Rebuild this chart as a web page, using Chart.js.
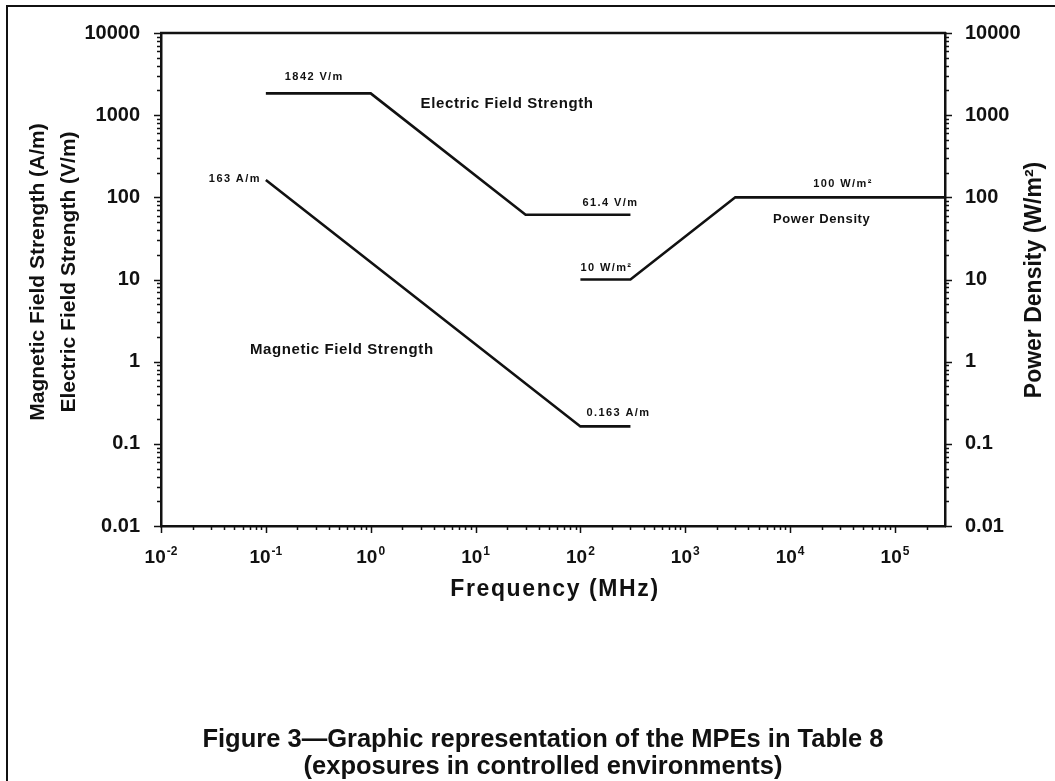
<!DOCTYPE html>
<html>
<head>
<meta charset="utf-8">
<title>MPE - controlled environments</title>
<script src="https://cdn.jsdelivr.net/npm/chart.js@4/dist/chart.umd.min.js"></script>
<style>
  html, body { margin: 0; padding: 0; background: #fff; overflow: hidden; }
  #wrap { position: relative; width: 1055px; height: 781px; }
  #frame { position: absolute; left: 6px; top: 5px; width: 1100px; height: 820px; border: 2px solid #111; }
  #graf { position: absolute; left: 0; top: 0; }
  #caption {
    position: absolute; left: 0; width: 1086px; top: 725px;
    font: bold 25.5px "Liberation Sans", Arial, sans-serif; line-height: 27px;
    text-align: center; color: #111; white-space: nowrap;
  }
</style>
</head>
<body>
<div id="wrap">
  <div id="frame"></div>
  <canvas id="graf" width="1055" height="781"></canvas>
  <div id="caption">Figure 3—Graphic representation of the MPEs in Table 8<br>(exposures in controlled environments)</div>
</div>
<script>
// Limites en funcion de la frecuencia (MHz)
const eFreq = [0.1, 1, 30, 300];
const eField = [1842, 1842, 61.4, 61.4];       // V/m
const hFreq = [0.1, 100, 300];
const hField = [163, 0.163, 0.163];            // A/m
const sFreq = [100, 300, 3000, 300000];
const sDensity = [10, 10, 100, 100];           // W/m2

const xDecades = [0.01, 0.1, 1, 10, 100, 1000, 10000, 100000];
const yDecades = [0.01, 0.1, 1, 10, 100, 1000, 10000];
const yTickLabels = ['0.01', '0.1', '1', '10', '100', '1000', '10000'];

const ink = '#111';
const fuente = '"Liberation Sans", Arial, sans-serif';

function puntos(xs, ys) {
  return xs.map((f, i) => ({x: f, y: ys[i]}));
}

// textos sobre las curvas (ancla en el punto, desplazamiento en px)
const etiquetas = [
  {text: eField[0] + ' V/m', eje: 'y', x: eFreq[0], y: eField[0], dx: 19, dy: -16, align: 'left', size: 11},
  {text: eField[2] + ' V/m', eje: 'y', x: eFreq[2], y: eField[2], dx: 57, dy: -12, align: 'left', size: 11},
  {text: hField[0] + ' A/m', eje: 'y', x: hFreq[0], y: hField[0], dx: -5, dy: -1, align: 'right', size: 11},
  {text: hField[1] + ' A/m', eje: 'y', x: hFreq[1], y: hField[1], dx: 6, dy: -13, align: 'left', size: 11},
  {text: sDensity[0] + ' W/m²', eje: 'y2', x: sFreq[0], y: sDensity[0], dx: 0, dy: -12, align: 'left', size: 11},
  {text: sDensity[2] + ' W/m²', eje: 'y2', x: sFreq[2], y: sDensity[2], dx: 78, dy: -13, align: 'left', size: 11},
  {text: 'Electric Field Strength', eje: 'y', x: 20, y: 1390, dx: 0, dy: 0, align: 'center', size: 15},
  {text: 'Magnetic Field Strength', eje: 'y', x: 0.53, y: 1.4, dx: 0, dy: 0, align: 'center', size: 15},
  {text: 'Power Density', eje: 'y2', x: 20000, y: 54, dx: 0, dy: 0, align: 'center', size: 13}
];

const extras = {
  id: 'extras',
  afterDraw(chart) {
    const ctx = chart.ctx;
    const area = chart.chartArea;
    const sx = chart.scales.x;
    const sy = chart.scales.y;
    ctx.save();
    ctx.strokeStyle = ink;
    ctx.fillStyle = ink;

    // borde superior del recuadro
    ctx.lineWidth = 2.5;
    ctx.beginPath();
    ctx.moveTo(area.left - 1, area.top);
    ctx.lineTo(area.right + 1, area.top);
    ctx.stroke();

    // marcas mayores y menores
    ctx.lineWidth = 1.5;
    ctx.beginPath();
    xDecades.forEach(d => {
      for (let m = 1; m <= 9; m++) {
        const v = d * m;
        if (v > sx.max * 0.999) break;
        const px = Math.round(sx.getPixelForValue(v)) + 0.5;
        const len = m === 1 ? 7 : 4;
        ctx.moveTo(px, area.bottom);
        ctx.lineTo(px, area.bottom + len);
      }
    });
    yDecades.forEach(d => {
      for (let m = 1; m <= 9; m++) {
        const v = d * m;
        if (v > sy.max * 1.001) break;
        const py = Math.round(sy.getPixelForValue(v)) + 0.5;
        const len = m === 1 ? 7 : 4;
        ctx.moveTo(area.left - len, py);
        ctx.lineTo(area.left, py);
        ctx.moveTo(area.right, py);
        ctx.lineTo(area.right + len, py);
      }
    });
    ctx.stroke();

    // etiquetas del eje x: 10 con exponente
    ctx.textBaseline = 'alphabetic';
    ctx.textAlign = 'left';
    xDecades.forEach(d => {
      const px = sx.getPixelForValue(d);
      const exp = String(Math.round(Math.log10(d)));
      ctx.font = 'bold 19px ' + fuente;
      const w1 = ctx.measureText('10').width;
      ctx.font = 'bold 12px ' + fuente;
      const w2 = ctx.measureText(exp).width;
      const x0 = px - (w1 + w2 + 1) / 2;
      ctx.font = 'bold 19px ' + fuente;
      ctx.fillText('10', x0, 563);
      ctx.font = 'bold 12px ' + fuente;
      ctx.fillText(exp, x0 + w1 + 1, 555);
    });

    // textos de las curvas
    ctx.textBaseline = 'middle';
    etiquetas.forEach(e => {
      const py = chart.scales[e.eje].getPixelForValue(e.y) + e.dy;
      const px = sx.getPixelForValue(e.x) + e.dx;
      ctx.font = 'bold ' + e.size + 'px ' + fuente;
      ctx.letterSpacing = e.size < 12 ? '1.4px' : '0.6px';
      ctx.textAlign = e.align;
      ctx.fillText(e.text, px, py);
    });
    ctx.letterSpacing = '0px';

    // titulos de los ejes
    ctx.textAlign = 'center';
    ctx.font = 'bold 21px ' + fuente;
    ctx.save();
    ctx.translate(38, 272);
    ctx.rotate(-Math.PI / 2);
    ctx.fillText('Magnetic Field Strength (A/m)', 0, 0);
    ctx.restore();
    ctx.save();
    ctx.translate(69, 272);
    ctx.rotate(-Math.PI / 2);
    ctx.fillText('Electric Field Strength (V/m)', 0, 0);
    ctx.restore();
    ctx.save();
    ctx.font = 'bold 23px ' + fuente;
    ctx.translate(1035, 280);
    ctx.rotate(-Math.PI / 2);
    ctx.fillText('Power Density (W/m²)', 0, 0);
    ctx.restore();

    ctx.font = 'bold 23px ' + fuente;
    ctx.letterSpacing = '1.6px';
    ctx.fillText('Frequency (MHz)', 555, 590);
    ctx.restore();
  }
};

function ejeY(posicion, ancho, pad) {
  return {
    type: 'logarithmic',
    position: posicion,
    min: 0.01,
    max: 10000,
    afterBuildTicks: s => { s.ticks = yDecades.map(v => ({value: v})); },
    afterFit: s => { s.width = ancho; },
    ticks: {
      autoSkip: false,
      padding: pad,
      color: ink,
      font: {family: fuente, size: 20, weight: 'bold'},
      callback: v => yTickLabels[yDecades.indexOf(v)]
    },
    grid: {drawOnChartArea: false, drawTicks: false},
    border: {display: true, color: ink, width: 2.5}
  };
}

const linea = {borderColor: ink, borderWidth: 2.6, pointRadius: 0, tension: 0, fill: false};

let ctx = document.getElementById('graf').getContext('2d');
let graf = new Chart(ctx, {
  type: 'line',
  data: {
    datasets: [
      Object.assign({label: 'Electric Field Strength', data: puntos(eFreq, eField), yAxisID: 'y'}, linea),
      Object.assign({label: 'Magnetic Field Strength', data: puntos(hFreq, hField), yAxisID: 'y'}, linea),
      Object.assign({label: 'Power Density', data: puntos(sFreq, sDensity), yAxisID: 'y2'}, linea)
    ]
  },
  options: {
    responsive: false,
    animation: false,
    devicePixelRatio: 1,
    layout: {padding: {top: 29, left: 0, right: 0, bottom: 0}},
    plugins: {legend: {display: false}, tooltip: {enabled: false}},
    scales: {
      x: {
        type: 'logarithmic',
        position: 'bottom',
        min: 0.01,
        max: 300000,
        afterFit: s => { s.height = 255; },
        ticks: {display: false},
        grid: {drawOnChartArea: false, drawTicks: false},
        border: {display: true, color: ink, width: 2.5}
      },
      y: ejeY('left', 161, 21),
      y2: ejeY('right', 110, 20)
    }
  },
  plugins: [extras]
});
</script>
</body>
</html>
